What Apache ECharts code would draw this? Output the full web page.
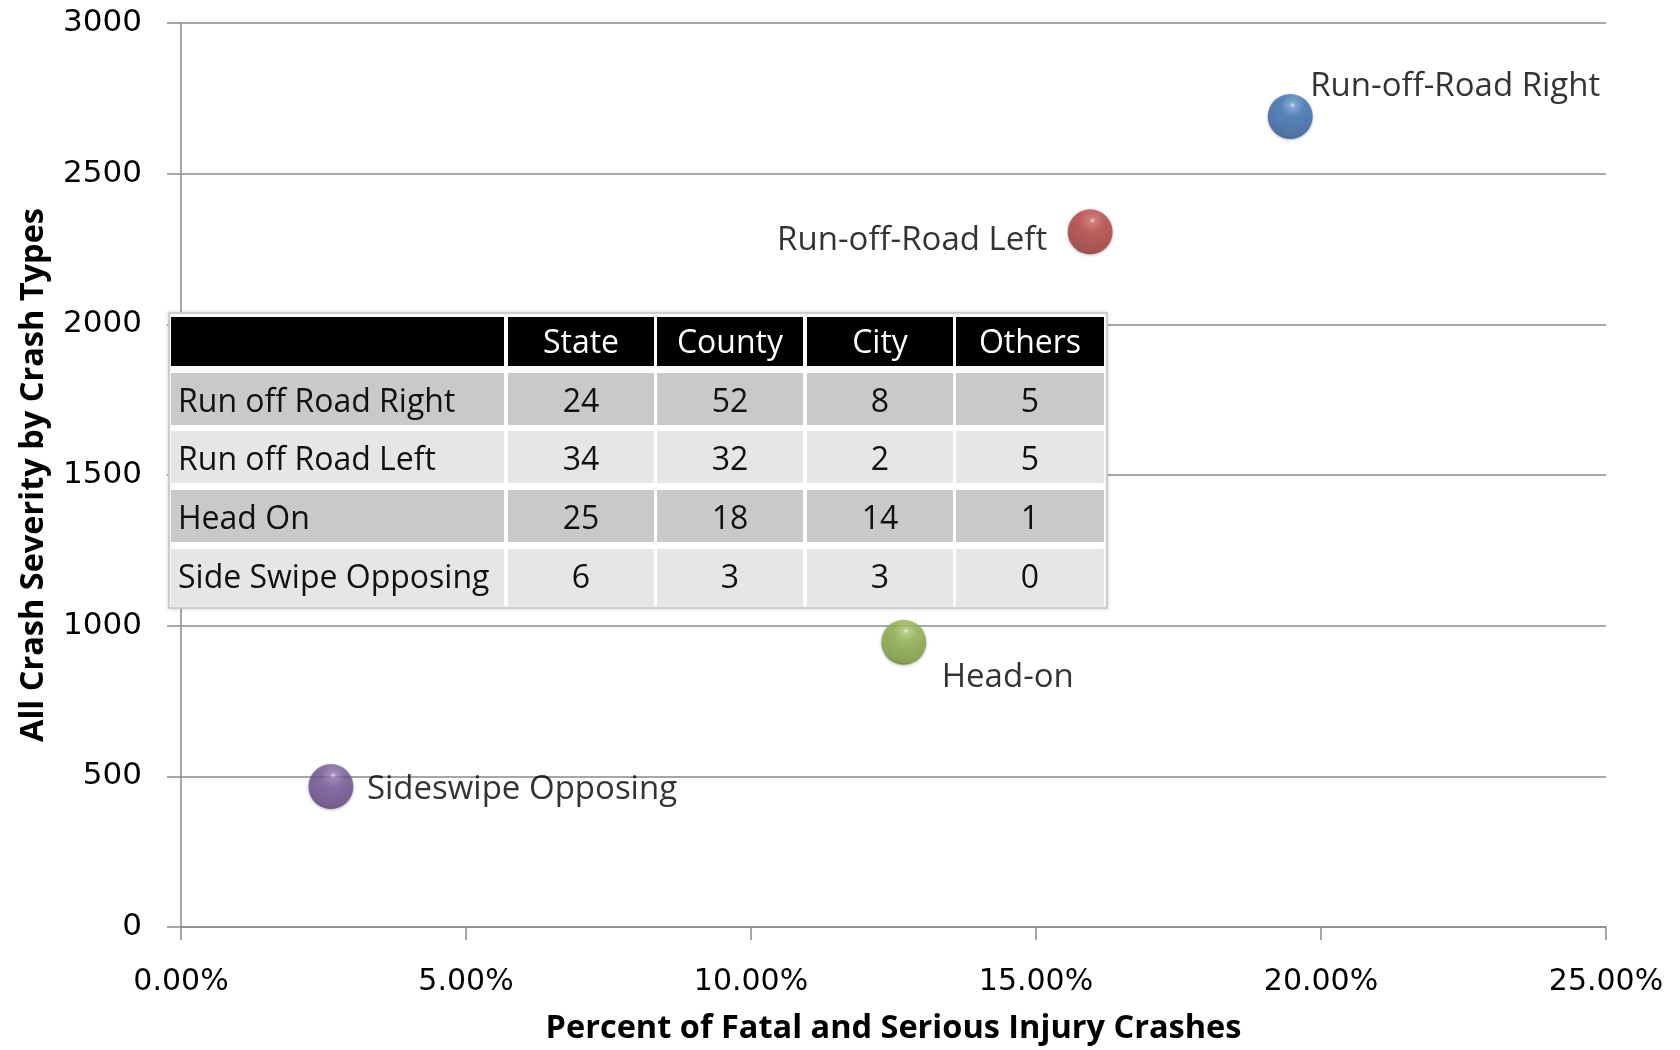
<!DOCTYPE html>
<html>
<head>
<meta charset="utf-8">
<script src="https://cdn.jsdelivr.net/npm/echarts@6/dist/echarts.min.js"></script>
<style>
  html, body { margin: 0; padding: 0; background: #fff; }
  #main { width: 1680px; height: 1050px; }
</style>
</head>
<body>
<div id="main"></div>
<script>
// crash types, x = percent of fatal & serious injury crashes, y = all severity count
const crashTypes = ['Run-off-Road Right', 'Run-off-Road Left', 'Head-on', 'Sideswipe Opposing'];
const pctFatalSerious = [19.46, 15.95, 12.68, 2.63];
const allSeverity = [2690, 2307, 945, 466];

// x axis ticks (percent)
const xTicks = [0, 5, 10, 15, 20, 25];

// inset table
const tableHeader = ['State', 'County', 'City', 'Others'];
const tableRowNames = ['Run off Road Right', 'Run off Road Left', 'Head On', 'Side Swipe Opposing'];
const stateCounts = [24, 34, 25, 6];
const countyCounts = [52, 32, 18, 3];
const cityCounts = [8, 2, 14, 3];
const otherCounts = [5, 5, 1, 0];

// colours per bubble: [specular, light, base, shade, rim]
const bubbleColors = [
  ['#d8e8f8', '#6fa0d6', '#3f74b4', '#34649f', '#1a3558'],
  ['#f6d0ce', '#d46e6a', '#bb4744', '#a23b38', '#5e1e1c'],
  ['#eef5dc', '#b2cf78', '#93b54e', '#7e9d40', '#475d22'],
  ['#e4dbf0', '#9a82bd', '#775a9a', '#654b86', '#3a2b50']
];

const BUBBLE = 45;

// label placement around each bubble (offset from bubble centre)
const labelPlace = [
  { align: 'left', offset: [20, -30] },
  { align: 'right', offset: [-43, 9] },
  { align: 'left', offset: [38, 35] },
  { align: 'left', offset: [36, 3] }
];

const FONT = '"Open Sans", "Noto Sans", sans-serif';

function sphere(c) {
  return {
    type: 'radial', x: 0.55, y: 0.25, r: 0.85,
    colorStops: [
      { offset: 0, color: c[0] },
      { offset: 0.08, color: c[1] },
      { offset: 0.32, color: c[2] },
      { offset: 0.8, color: c[3] },
      { offset: 1, color: c[4] }
    ]
  };
}

const points = crashTypes.map(function (name, i) {
  return {
    name: name,
    value: [pctFatalSerious[i], allSeverity[i]],
    itemStyle: { color: sphere(bubbleColors[i]) },
    label: {
      position: [BUBBLE / 2 + labelPlace[i].offset[0], BUBBLE / 2 + labelPlace[i].offset[1]],
      align: labelPlace[i].align
    }
  };
});

// table drawn as graphic elements
function buildTable() {
  const left = 171, top = 314;
  const colX = [171, 508, 657, 807, 956];
  const colW = [333, 146, 146, 146, 148];
  const headerTop = 317, headerH = 49;
  const rowTop = [373, 431, 490, 549];
  const rowH = [52, 52, 52, 58];
  const rowFill = ['#c9c9c9', '#e6e6e6', '#c9c9c9', '#e6e6e6'];
  const cols = [stateCounts, countyCounts, cityCounts, otherCounts];
  const els = [];

  els.push({
    type: 'rect',
    shape: { x: left - 2, y: top - 1, width: 938, height: 295 },
    style: { fill: '#fff', stroke: '#c4c4c4', lineWidth: 1.5,
      shadowBlur: 4, shadowColor: 'rgba(0,0,0,0.15)' },
    z: 10
  });

  for (let c = 0; c < 5; c++) {
    els.push({
      type: 'rect',
      shape: { x: colX[c], y: headerTop, width: colW[c], height: headerH },
      style: { fill: '#000' },
      z: 11
    });
    if (c > 0) {
      els.push({
        type: 'text',
        x: colX[c] + colW[c] / 2, y: headerTop + 27,
        style: { text: tableHeader[c - 1], fill: '#fff', font: '32px ' + FONT,
          align: 'center', verticalAlign: 'middle' },
        z: 12
      });
    }
  }

  for (let r = 0; r < tableRowNames.length; r++) {
    for (let c = 0; c < 5; c++) {
      els.push({
        type: 'rect',
        shape: { x: colX[c], y: rowTop[r], width: colW[c], height: rowH[r] },
        style: { fill: rowFill[r] },
        z: 11
      });
    }
    els.push({
      type: 'text',
      x: colX[0] + 7, y: rowTop[r] + 30,
      style: { text: tableRowNames[r], fill: '#111', font: '32px ' + FONT,
        align: 'left', verticalAlign: 'middle' },
      z: 12
    });
    for (let c = 1; c < 5; c++) {
      els.push({
        type: 'text',
        x: colX[c] + colW[c] / 2, y: rowTop[r] + 30,
        style: { text: String(cols[c - 1][r]), fill: '#111', font: '32px ' + FONT,
          align: 'center', verticalAlign: 'middle' },
        z: 12
      });
    }
  }
  return els;
}

const chart = echarts.init(document.getElementById('main'));

chart.setOption({
  backgroundColor: '#fff',
  animation: false,
  grid: { left: 181, right: 74, top: 23, bottom: 120 },
  xAxis: {
    type: 'value',
    min: xTicks[0],
    max: xTicks[xTicks.length - 1],
    interval: xTicks[1] - xTicks[0],
    name: 'Percent of Fatal and Serious Injury Crashes',
    nameLocation: 'middle',
    nameGap: 85,
    nameTextStyle: { fontFamily: FONT, fontWeight: 'bold', fontSize: 32.5, color: '#000' },
    axisLine: { show: true, lineStyle: { color: '#8a8a8a', width: 1.5 } },
    axisTick: { show: true, length: 13, lineStyle: { color: '#8a8a8a', width: 1.5 } },
    axisLabel: {
      margin: 40,
      fontFamily: '"DejaVu Sans", sans-serif', fontSize: 30, color: '#000',
      formatter: function (v) { return v.toFixed(2) + '%'; }
    },
    splitLine: { show: false }
  },
  yAxis: {
    type: 'value',
    min: 0,
    max: 3000,
    interval: 500,
    name: 'All Crash Severity by Crash Types',
    nameLocation: 'middle',
    nameGap: 131,
    nameTextStyle: { fontFamily: FONT, fontWeight: 'bold', fontSize: 32.5, color: '#000' },
    axisLine: { show: true, lineStyle: { color: '#8a8a8a', width: 1.5 } },
    axisTick: { show: true, length: 14, lineStyle: { color: '#8a8a8a', width: 1.5 } },
    axisLabel: {
      margin: 39,
      fontFamily: '"DejaVu Sans", sans-serif', fontSize: 31, color: '#000',
      formatter: function (v) { return String(v); }
    },
    splitLine: { show: true, lineStyle: { color: '#8a8a8a', width: 1.5 } }
  },
  series: [{
    type: 'scatter',
    symbol: 'circle',
    symbolSize: BUBBLE,
    data: points,
    itemStyle: {
      shadowBlur: 3,
      shadowColor: 'rgba(0,0,0,0.35)',
      shadowOffsetY: 1
    },
    label: {
      show: true,
      verticalAlign: 'middle',
      formatter: '{b}',
      fontFamily: FONT,
      fontSize: 33,
      color: '#000',
      textBorderWidth: 0
    },
    z: 5
  }],
  graphic: buildTable()
});
</script>
</body>
</html>
